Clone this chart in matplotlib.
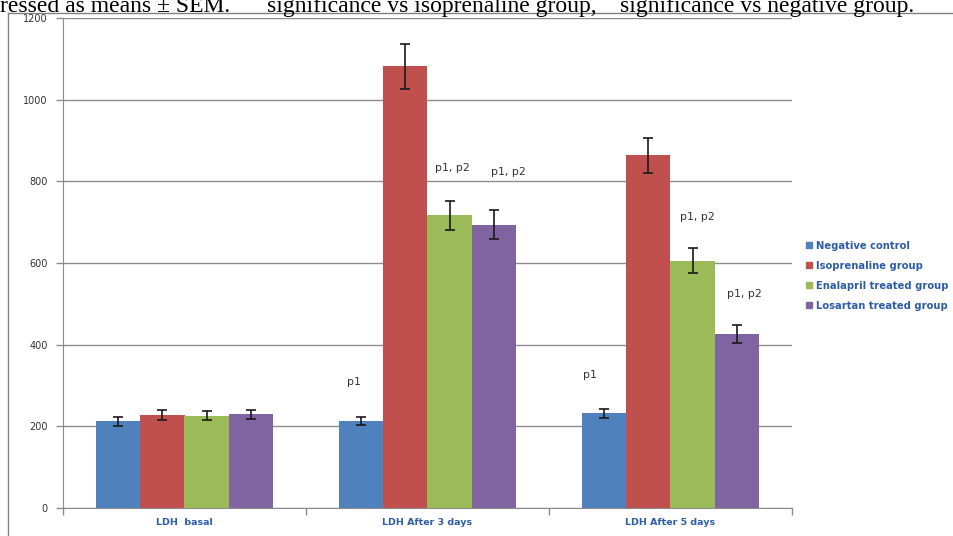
import matplotlib.pyplot as plt
import numpy as np
from matplotlib.lines import Line2D
from matplotlib.patches import Patch

categories = ["LDH  basal", "LDH After 3 days", "LDH After 5 days"]
groups = ["Negative control", "Isoprenaline group",
          "Enalapril treated group", "Losartan treated group"]
negative = [212, 213, 232]
isoprenaline = [228, 1082, 864]
enalapril = [226, 717, 606]
losartan = [230, 694, 426]
negative_err = [11, 10, 11]
isoprenaline_err = [12, 55, 43]
enalapril_err = [11, 35, 31]
losartan_err = [11, 35, 21]
colors = ["#4F81BD", "#C0504D", "#9BBB59", "#8064A2"]

# significance labels: (category, group index, text height)
marks = [
    (1, 0, 309, "p1"),
    (1, 2, 833, "p1, p2"),
    (1, 3, 823, "p1, p2"),
    (2, 0, 326, "p1"),
    (2, 2, 713, "p1, p2"),
    (2, 3, 524, "p1, p2"),
]
mark_shift = [-0.03, 0.01, 0.06, -0.06, 0.02, 0.03]

caption = ["ressed as means \u00b1 SEM.",
           "significance vs isoprenaline group,",
           "significance vs negative group."]
caption_x = [0, 267, 620]

values = [negative, isoprenaline, enalapril, losartan]
errors = [negative_err, isoprenaline_err, enalapril_err, losartan_err]

fig = plt.figure(figsize=(9.54, 5.36), dpi=100)
ax = fig.add_axes([63 / 954, 1 - 508 / 536, (792 - 63) / 954, 490 / 536])

x = np.arange(len(categories))
width = 1 / 5.5
offsets = (np.arange(4) - 1.5) * width

for i in range(4):
    ax.bar(x + offsets[i], values[i], width, color=colors[i], zorder=2)
    ax.errorbar(x + offsets[i], values[i], yerr=errors[i], fmt="none",
                ecolor="#1a1a1a", elinewidth=1.2, capsize=3.5, capthick=1.2,
                zorder=3)

for (c, g, h, txt), dx in zip(marks, mark_shift):
    ax.text(c + offsets[g] + dx, h, txt, ha="center", va="center",
            fontsize=7.8, color="#333333", family="DejaVu Sans")

ax.set_xlim(-0.5, 2.5)
ax.set_ylim(0, 1200)
ax.set_yticks(range(0, 1201, 200))
ax.yaxis.grid(True, color="#8c8c8c", linewidth=1)
ax.set_axisbelow(True)
ax.tick_params(axis="y", length=5, width=1, color="#8c8c8c",
               labelsize=7, labelcolor="#333333", pad=6)
ax.set_xticks([-0.5, 0.5, 1.5, 2.5])
ax.set_xticklabels([])
ax.set_xticks(x, minor=True)
ax.set_xticklabels(categories, minor=True, fontsize=6.8, fontweight="bold",
                   color="#2E5DA8")
ax.tick_params(axis="x", which="major", length=5, width=1, color="#8c8c8c")
ax.tick_params(axis="x", which="minor", length=0, pad=7)
for side in ["top", "right"]:
    ax.spines[side].set_visible(False)
for side in ["left", "bottom"]:
    ax.spines[side].set_color("#8c8c8c")

handles = [Patch(color=c) for c in colors]
leg = fig.legend(handles, groups, loc="center left",
                 bbox_to_anchor=(0.835, 0.486), frameon=False,
                 handlelength=0.6, handleheight=0.6, handletextpad=0.4,
                 labelspacing=1.0, prop={"size": 7.2, "weight": "bold"})
for t in leg.get_texts():
    t.set_color("#2E5DA8")

# frame of the original screenshot
fig.add_artist(Line2D([8 / 954, 1], [1 - 12.5 / 536] * 2, color="#808080",
                      linewidth=1, transform=fig.transFigure))
fig.add_artist(Line2D([8 / 954, 8 / 954], [0, 1 - 12.5 / 536],
                      color="#808080", linewidth=1,
                      transform=fig.transFigure))

for txt, px in zip(caption, caption_x):
    fig.text(px / 954, 1 - 12 / 536, txt, fontsize=17,
             family="Liberation Serif", va="baseline", ha="left")

fig.savefig("out.png", dpi=100)
